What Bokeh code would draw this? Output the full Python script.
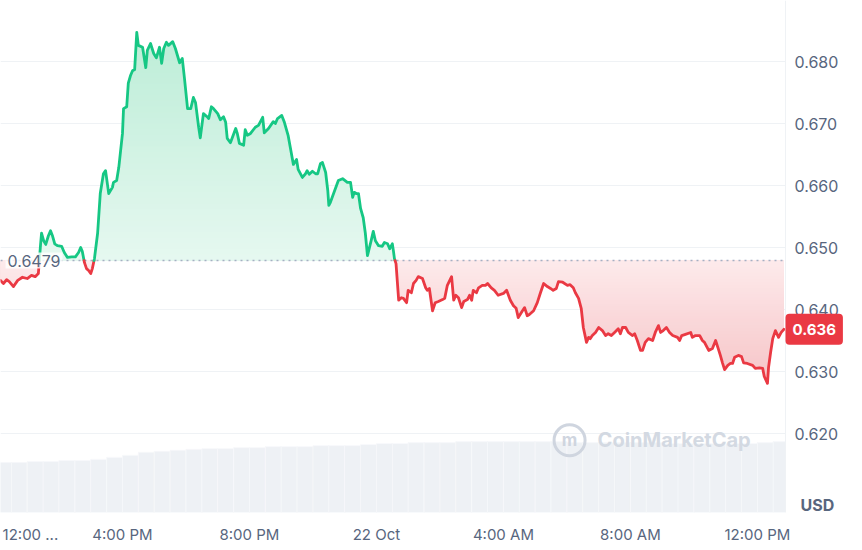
import numpy as np
from bokeh.plotting import figure
from bokeh.models import Range1d, FixedTicker, Span, Label
from bokeh.core.properties import value
from bokeh.embed import file_html
from bokeh.resources import INLINE

# ---------------- data ----------------
# minutes since 12:00 PM, 21 Oct
minutes = [9, 15, 21, 26, 34, 42, 51, 60, 68, 75, 81, 85, 87, 91, 95, 100, 104, 108, 112, 117,
           125, 130, 136, 144, 151, 157, 161, 164, 168, 172, 176, 180, 183, 187,
           193, 198, 204, 208, 214, 221, 223, 229, 233, 240, 242, 248, 251, 255, 259, 263,
           267, 270, 278, 284, 287, 293, 299, 304, 310, 314, 318, 323, 327, 335, 340, 348,
           353, 357, 363, 369, 374, 378, 384, 387, 393, 401, 403, 408, 412, 420, 425, 431,
           435, 438, 444, 454, 457, 461, 469, 472, 476, 482, 491, 497, 505, 508, 516, 525,
           529, 533, 541, 546, 553, 559, 563, 569, 572, 580, 586, 589, 593, 599, 605, 609,
           614, 618, 624, 628, 630, 633, 639, 648, 656, 665, 671, 675, 678, 682, 686, 690,
           695, 699, 703, 710, 714, 718, 724, 731, 735, 741, 745, 750, 752, 754, 757,
           762, 767, 771, 777, 780, 786, 790, 795, 799, 807, 813, 816, 820, 826, 831, 837,
           845, 849, 854, 862, 866, 870, 875, 881, 885, 892, 896, 900, 903, 909, 913, 920,
           926, 930, 937, 943, 950, 960, 966, 973, 979, 984, 988, 996, 1000, 1005, 1009,
           1017, 1024, 1030, 1036, 1043, 1049, 1054, 1060, 1064, 1072, 1081, 1086, 1092,
           1096, 1102, 1107, 1111, 1117, 1121, 1124, 1128, 1134, 1140, 1147, 1153, 1158,
           1164, 1170, 1177, 1181, 1185, 1191, 1196, 1204, 1208, 1213, 1219, 1223, 1228,
           1234, 1242, 1247, 1253, 1257, 1262, 1268, 1274, 1280, 1289, 1293, 1297, 1304,
           1314, 1317, 1323, 1331, 1336, 1340, 1348, 1355, 1361, 1366, 1370, 1374, 1378,
           1384, 1389, 1393, 1397, 1404, 1410, 1414, 1421, 1431, 1436, 1444, 1450, 1453,
           1459, 1461, 1465, 1469, 1474, 1480, 1485, 1490]
prices = [0.6447, 0.6442, 0.6448, 0.6445, 0.6437, 0.6447, 0.6452, 0.6450, 0.6455, 0.6453, 0.6458,
          0.6503, 0.6523, 0.6511, 0.6505, 0.6519, 0.6527, 0.6518, 0.6506, 0.6503,
          0.6502, 0.6492, 0.6484, 0.6485, 0.6485, 0.6492, 0.6500, 0.6494, 0.6476, 0.6466,
          0.6463, 0.6458, 0.6466, 0.6482,
          0.6523, 0.6587, 0.6619, 0.6624, 0.6587, 0.6597, 0.6605, 0.6608, 0.6629, 0.6684,
          0.6724, 0.6727, 0.6765, 0.6777, 0.6785, 0.6787,
          0.6847, 0.6826, 0.6823, 0.6790, 0.6818, 0.6829, 0.6813, 0.6806, 0.6823, 0.6797,
          0.6821, 0.6831, 0.6826, 0.6832, 0.6821, 0.6798,
          0.6805, 0.6774, 0.6724, 0.6724, 0.6742, 0.6734, 0.6694, 0.6677, 0.6716, 0.6710,
          0.6708, 0.6727, 0.6724, 0.6716, 0.6706, 0.6711,
          0.6702, 0.6676, 0.6669, 0.6692, 0.6684, 0.6668, 0.6665, 0.6690, 0.6681, 0.6684,
          0.6694, 0.6697, 0.6710, 0.6685, 0.6692, 0.6703,
          0.6700, 0.6708, 0.6713, 0.6702, 0.6681, 0.6653, 0.6634, 0.6642, 0.6626, 0.6613,
          0.6619, 0.6624, 0.6618, 0.6623, 0.6619, 0.6619,
          0.6635, 0.6637, 0.6621, 0.6592, 0.6568, 0.6573, 0.6587, 0.6608, 0.6611, 0.6605,
          0.6605, 0.6581, 0.6589, 0.6587, 0.6587, 0.6563,
          0.6548, 0.6523, 0.6487, 0.6511, 0.6526, 0.6511, 0.6503, 0.6502, 0.6508, 0.6506,
          0.6498, 0.6506, 0.6495, 0.6482, 0.6474,
          0.6415, 0.6419, 0.6418, 0.6411, 0.6431, 0.6427, 0.6442, 0.6447, 0.6453, 0.6450,
          0.6435, 0.6431, 0.6434, 0.6398, 0.6411, 0.6413,
          0.6416, 0.6418, 0.6439, 0.6453, 0.6415, 0.6423, 0.6419, 0.6403, 0.6413, 0.6416,
          0.6423, 0.6415, 0.6431, 0.6427, 0.6435, 0.6439,
          0.6439, 0.6442, 0.6435, 0.6431, 0.6423, 0.6426, 0.6431, 0.6415, 0.6406, 0.6402,
          0.6387, 0.6398, 0.6403, 0.6390, 0.6392,
          0.6398, 0.6411, 0.6427, 0.6442, 0.6437, 0.6434, 0.6431, 0.6434, 0.6445, 0.6444,
          0.6439, 0.6440, 0.6435,
          0.6427, 0.6418, 0.6402, 0.6371, 0.6347, 0.6355, 0.6353, 0.6358, 0.6363, 0.6371,
          0.6366, 0.6358, 0.6361,
          0.6358, 0.6363, 0.6369, 0.6361, 0.6371, 0.6371, 0.6363, 0.6358, 0.6361, 0.6350,
          0.6334, 0.6334, 0.6347,
          0.6353, 0.6350, 0.6363, 0.6374, 0.6363, 0.6366, 0.6371, 0.6363, 0.6358, 0.6355,
          0.6350, 0.6358, 0.6360,
          0.6363, 0.6355, 0.6358, 0.6358, 0.6350, 0.6347, 0.6334, 0.6337, 0.6350, 0.6337,
          0.6326, 0.6314, 0.6303,
          0.6310, 0.6313, 0.6313, 0.6323, 0.6326, 0.6324, 0.6314, 0.6313, 0.6310, 0.6305,
          0.6306, 0.6305, 0.6292,
          0.6281, 0.6306, 0.6331, 0.6353, 0.6366, 0.6355, 0.6363, 0.6368]

baseline = 0.6479
baseline_text = "0.6479"
last_price_text = "0.636"
currency = "USD"

vol_minutes = [15, 45, 75, 105, 135, 165, 195, 225, 255, 285, 315, 345, 375, 405, 435,
               465, 495, 525, 555, 585, 615, 645, 675, 705, 735, 765, 795, 825, 855, 885,
               915, 945, 975, 1005, 1035, 1065, 1095, 1125, 1155, 1185, 1215, 1245, 1275,
               1305, 1335, 1365, 1395, 1425, 1455, 1485]
volumes = [149, 149, 152, 152, 155, 155, 158, 164, 170, 179, 182, 185, 188, 190, 190,
           193, 193, 196, 196, 196, 199, 199, 199, 202, 205, 205, 208, 208, 208, 211,
           211, 211, 211, 211, 211, 211, 208, 208, 208, 208, 208, 208, 205, 205, 205,
           205, 205, 205, 208, 211]

x_ticks = [66, 240, 480, 720, 960, 1200, 1440]
x_labels = ["12:00 ...", "4:00 PM", "8:00 PM", "22 Oct", "4:00 AM", "8:00 AM", "12:00 PM"]
y_ticks = [0.62, 0.63, 0.64, 0.65, 0.66, 0.67, 0.68]

GREEN = "#16c784"
RED = "#ea3943"
TXT = "#58667e"
GRID = "#eff2f5"
FONT = "Inter"

# plot-area limits (time) and full canvas extent
T0, T1, TCANVAS = 9.45, 1493.1, 1608.4
P0, P1 = 0.60726, 0.68984

# ---------------- figure ----------------
p = figure(frame_width=846, frame_height=512, output_backend="svg", toolbar_location=None,
           x_range=Range1d(T0, TCANVAS), y_range=Range1d(P0, P1),
           y_axis_location=None, min_border=0,
           min_border_left=0, min_border_top=0, min_border_right=0, min_border_bottom=0)
p.outline_line_color = None
p.background_fill_color = "white"
p.border_fill_color = "white"
p.xgrid.visible = False
p.ygrid.visible = False
p.extra_y_ranges = {"vol": Range1d(0, 1524)}

# grid lines (only across the plot area)
p.segment(x0=[T0] * len(y_ticks), x1=[T1] * len(y_ticks), y0=y_ticks, y1=y_ticks,
          line_color=GRID, line_width=1)
p.add_layout(Span(location=T1, dimension="height", line_color=GRID, line_width=1))

# volume
vt = np.array(vol_minutes, dtype=float)
p.quad(left=vt - 15, right=np.minimum(vt + 15, T1), bottom=0, top=volumes, y_range_name="vol",
       fill_color="#eef1f5", line_color="#f6f8fa", line_width=0.8)

# crossing-augmented series
t = np.array(minutes, dtype=float)
pr = np.array(prices, dtype=float)
tt = [t[0]]
pp = [pr[0]]
for i in range(len(t) - 1):
    a = pr[i] - baseline
    b = pr[i + 1] - baseline
    if a * b < 0:
        f = a / (a - b)
        tt.append(t[i] + f * (t[i + 1] - t[i]))
        pp.append(baseline)
    tt.append(t[i + 1])
    pp.append(pr[i + 1])
tt = np.array(tt)
pp = np.array(pp)

up = np.maximum(pp, baseline)
dn = np.minimum(pp, baseline)


def mix(c0, c1, f):
    return "#%02x%02x%02x" % tuple(int(round(c0[j] + (c1[j] - c0[j]) * f)) for j in range(3))


N = 40
g_lo, g_hi = (230, 248, 240), (188, 237, 215)
r_lo, r_hi = (253, 234, 235), (246, 196, 199)
top = pr.max()
bot = pr.min()
base_arr = np.full_like(tt, baseline)
for k in range(N - 1, -1, -1):
    hi = baseline + (top - baseline) * (k + 1) / N
    p.varea(x=tt, y1=base_arr, y2=np.clip(up, baseline, hi),
            fill_color=mix(g_lo, g_hi, (k + 0.5) / N), fill_alpha=1)
    lo = baseline - (baseline - bot) * (k + 1) / N
    p.varea(x=tt, y1=np.clip(dn, lo, baseline), y2=base_arr,
            fill_color=mix(r_lo, r_hi, (k + 0.5) / N), fill_alpha=1)

# baseline dotted
p.segment(x0=[T0], x1=[T1], y0=[baseline], y1=[baseline], line_color="#a6b0c3",
          line_width=1.5, line_dash="2 4")

# coloured line runs
xs, ys, cols = [], [], []
cur_x, cur_y, cur_c = [tt[0]], [pp[0]], None
for i in range(len(tt) - 1):
    c = GREEN if (pp[i] + pp[i + 1]) / 2 >= baseline else RED
    if cur_c is None:
        cur_c = c
    if c != cur_c:
        xs.append(cur_x); ys.append(cur_y); cols.append(cur_c)
        cur_x, cur_y, cur_c = [tt[i]], [pp[i]], c
    cur_x.append(tt[i + 1]); cur_y.append(pp[i + 1])
xs.append(cur_x); ys.append(cur_y); cols.append(cur_c)
p.multi_line(xs=xs, ys=ys, line_color=cols, line_width=2.8, line_join="round", line_cap="round")

# watermark
p.scatter(x=[1085], y=[0.6189], marker="circle", size=31, fill_color=None,
          line_color="#cfd5df", line_width=3)
p.text(x=[1085], y=[0.6189], text=["m"], text_font=value(FONT), text_font_size="17px",
       text_font_style="bold", text_color="#cfd5df", text_align="center", text_baseline="middle")
p.text(x=[1138], y=[0.6189], text=["CoinMarketCap"], text_font=value(FONT), text_font_size="20px",
       text_font_style="bold", text_color="#d3d9e2", text_baseline="middle")

# price scale labels on the right
p.text(x=[T1] * len(y_ticks), y=y_ticks, text=[f"{v:.3f}" for v in y_ticks], x_offset=9,
       text_font=value(FONT), text_font_size="16px", text_color=TXT, text_baseline="middle")
p.text(x=[T1], y=[0.6084], text=[currency], x_offset=15, text_font=value(FONT),
       text_font_size="16px", text_font_style="bold", text_color=TXT, text_baseline="middle")

# baseline label
p.add_layout(Label(x=19, y=baseline, text=baseline_text, text_font=FONT, text_font_size="16px",
                   text_color=TXT, text_baseline="middle", background_fill_color="white",
                   background_fill_alpha=0.8, padding=2))

# last price badge
p.add_layout(Label(x=T1, y=prices[-1], text=last_price_text, x_offset=0,
                   text_font=FONT, text_font_size="15px", text_font_style="bold",
                   text_color="white", text_baseline="middle",
                   background_fill_color=RED, padding=(7, 10), border_radius=4))

# time axis
xa = p.xaxis[0]
xa.ticker = FixedTicker(ticks=x_ticks)
xa.major_label_overrides = {k: v for k, v in zip(x_ticks, x_labels)}
xa.axis_line_color = None
xa.major_tick_line_color = None
xa.minor_tick_line_color = None
xa.major_tick_out = 0
xa.major_tick_in = 0
xa.major_label_text_font = FONT
xa.major_label_text_font_size = "15px"
xa.major_label_text_color = TXT
xa.major_label_standoff = 12

open("out.html", "w").write(file_html(p, INLINE))
